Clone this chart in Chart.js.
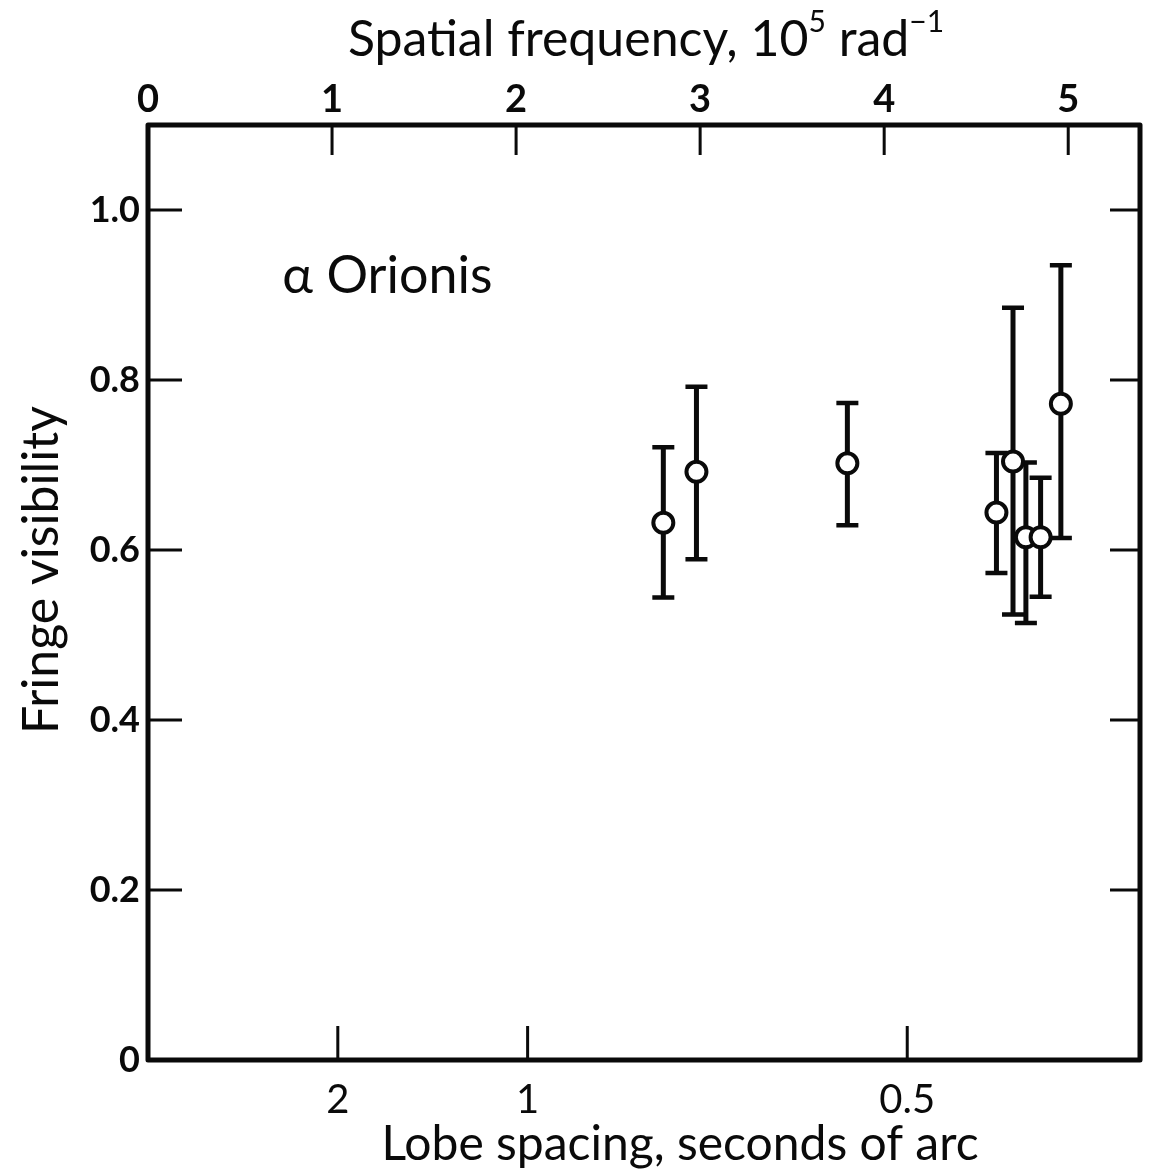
<!DOCTYPE html>
<html>
<head>
<meta charset="utf-8">
<script src="https://cdn.jsdelivr.net/npm/chart.js@4.4.1/dist/chart.umd.min.js"></script>
<style>
  html, body { margin: 0; padding: 0; background: #fff; }
  #chart { display: block; }
</style>
</head>
<body>
<canvas id="chart" width="1154" height="1175"></canvas>
<script>
// alpha Orionis - fringe visibility vs spatial frequency (10^5 rad^-1)
const freq   = [2.80, 2.98, 3.80, 4.61, 4.70, 4.77, 4.85, 4.96];
const vis    = [0.632, 0.692, 0.702, 0.644, 0.704, 0.615, 0.615, 0.772];
const visHi  = [0.721, 0.792, 0.773, 0.714, 0.885, 0.703, 0.685, 0.935];
const visLo  = [0.544, 0.589, 0.629, 0.573, 0.524, 0.514, 0.545, 0.614];

const freqTicks  = [0, 1, 2, 3, 4, 5];
const visTicks   = [0, 0.2, 0.4, 0.6, 0.8, 1.0];
const visLabels  = ['0', '0.2', '0.4', '0.6', '0.8', '1.0'];
const lobeTicks  = [2, 1, 0.5];
const lobeLabels = ['2', '1', '0.5'];

// lobe spacing in arcsec = ARCSEC / spatial frequency (10^5 rad^-1)
const ARCSEC = 2.06265;
const FREQ_MAX = 5.39;
const VIS_MAX = 1.1;

const ink = '#0a0a0a';
const family = 'Lato, "DejaVu Sans", sans-serif';

function drawFigure(c) {
  const ctx = c.ctx;
  const a = c.chartArea;
  const xs = c.scales.x, xb = c.scales.x2, ys = c.scales.y;
  ctx.save();
  ctx.strokeStyle = ink;
  ctx.lineCap = 'butt';

  // inward tick marks
  ctx.lineWidth = 3;
  ctx.beginPath();
  freqTicks.forEach(v => {
    const px = xs.getPixelForValue(v);
    ctx.moveTo(px, a.top); ctx.lineTo(px, a.top + 30);
  });
  lobeTicks.forEach(t => {
    const px = xb.getPixelForValue(ARCSEC / t);
    ctx.moveTo(px, a.bottom); ctx.lineTo(px, a.bottom - 34);
  });
  visTicks.forEach(v => {
    const py = ys.getPixelForValue(v);
    ctx.moveTo(a.left, py); ctx.lineTo(a.left + 34, py);
    ctx.moveTo(a.right, py); ctx.lineTo(a.right - 30, py);
  });
  ctx.stroke();

  // frame
  ctx.lineWidth = 5;
  ctx.lineJoin = 'round';
  ctx.strokeRect(a.left, a.top, a.right - a.left, a.bottom - a.top);

  // error bars
  freq.forEach((f, i) => {
    const px = xs.getPixelForValue(f);
    const yt = ys.getPixelForValue(visHi[i]);
    const yb = ys.getPixelForValue(visLo[i]);
    ctx.lineWidth = 5;
    ctx.beginPath();
    ctx.moveTo(px, yt); ctx.lineTo(px, yb);
    ctx.stroke();
    ctx.lineWidth = 4.5;
    ctx.beginPath();
    ctx.moveTo(px - 11, yt); ctx.lineTo(px + 11, yt);
    ctx.moveTo(px - 11, yb); ctx.lineTo(px + 11, yb);
    ctx.stroke();
  });
  ctx.restore();
}

function drawText(c) {
  const ctx = c.ctx;
  const xs = c.scales.x, ys = c.scales.y;
  ctx.save();
  ctx.fillStyle = ink;
  ctx.textBaseline = 'alphabetic';

  // top title with superscripts
  const big = '50px ' + family, sup = '30px ' + family;
  const parts = [['Spatial frequency, 10', big, 0], ['5', sup, -24], [' rad', big, 0], ['\u22121', sup, -24]];
  let w = 0;
  parts.forEach(p => { ctx.font = p[1]; w += ctx.measureText(p[0]).width; });
  let x = 646 - w / 2;
  parts.forEach(p => {
    ctx.font = p[1];
    ctx.textAlign = 'left';
    ctx.fillText(p[0], x, 56 + p[2]);
    x += ctx.measureText(p[0]).width;
  });

  // bottom title
  ctx.font = '48px ' + family;
  ctx.textAlign = 'center';
  ctx.fillText('Lobe spacing, seconds of arc', 680, 1160);

  // left title
  ctx.save();
  ctx.translate(58, 570);
  ctx.rotate(-Math.PI / 2);
  ctx.font = '50px ' + family;
  ctx.fillText('Fringe visibility', 0, 0);
  ctx.restore();

  // star name
  ctx.font = '52px ' + family;
  ctx.textAlign = 'left';
  ctx.fillText('\u03b1 Orionis', xs.getPixelForValue(0.73), ys.getPixelForValue(0.902));
  ctx.restore();
}

const figure = {
  id: 'figure',
  beforeDatasetsDraw: drawFigure,
  afterDraw: drawText
};

const axisCommon = {
  type: 'linear',
  grid: { display: false, drawTicks: false },
  border: { display: false }
};

new Chart(document.getElementById('chart'), {
  type: 'scatter',
  data: {
    datasets: [{
      data: freq.map((f, i) => ({ x: f, y: vis[i] })),
      xAxisID: 'x',
      yAxisID: 'y',
      pointRadius: 10,
      pointHoverRadius: 10,
      pointBorderWidth: 4,
      pointBackgroundColor: '#fff',
      pointBorderColor: ink
    }]
  },
  options: {
    responsive: false,
    animation: false,
    layout: { padding: { right: 14 } },
    plugins: { legend: { display: false }, tooltip: { enabled: false } },
    scales: {
      x: {
        ...axisCommon,
        position: 'top',
        min: 0, max: FREQ_MAX,
        afterBuildTicks: s => { s.ticks = freqTicks.map(v => ({ value: v })); },
        afterFit: s => { s.height = 125; },
        ticks: {
          color: ink, padding: 2, autoSkip: false, maxRotation: 0,
          font: { family, size: 38, weight: 'bold' },
          callback: v => String(v)
        }
      },
      x2: {
        ...axisCommon,
        position: 'bottom',
        min: 0, max: FREQ_MAX,
        afterBuildTicks: s => { s.ticks = lobeTicks.map(t => ({ value: ARCSEC / t })); },
        afterFit: s => { s.height = 115; },
        ticks: {
          color: ink, padding: 16, autoSkip: false, maxRotation: 0,
          font: { family, size: 40 },
          callback: (v, i) => lobeLabels[i]
        }
      },
      y: {
        ...axisCommon,
        position: 'left',
        min: 0, max: VIS_MAX,
        afterBuildTicks: s => { s.ticks = visTicks.map(v => ({ value: v })); },
        afterFit: s => { s.width = 148; },
        ticks: {
          color: ink, padding: 8, autoSkip: false,
          font: { family, size: 36, weight: 'bold' },
          callback: (v, i) => visLabels[i]
        }
      }
    }
  },
  plugins: [figure]
});
</script>
</body>
</html>
